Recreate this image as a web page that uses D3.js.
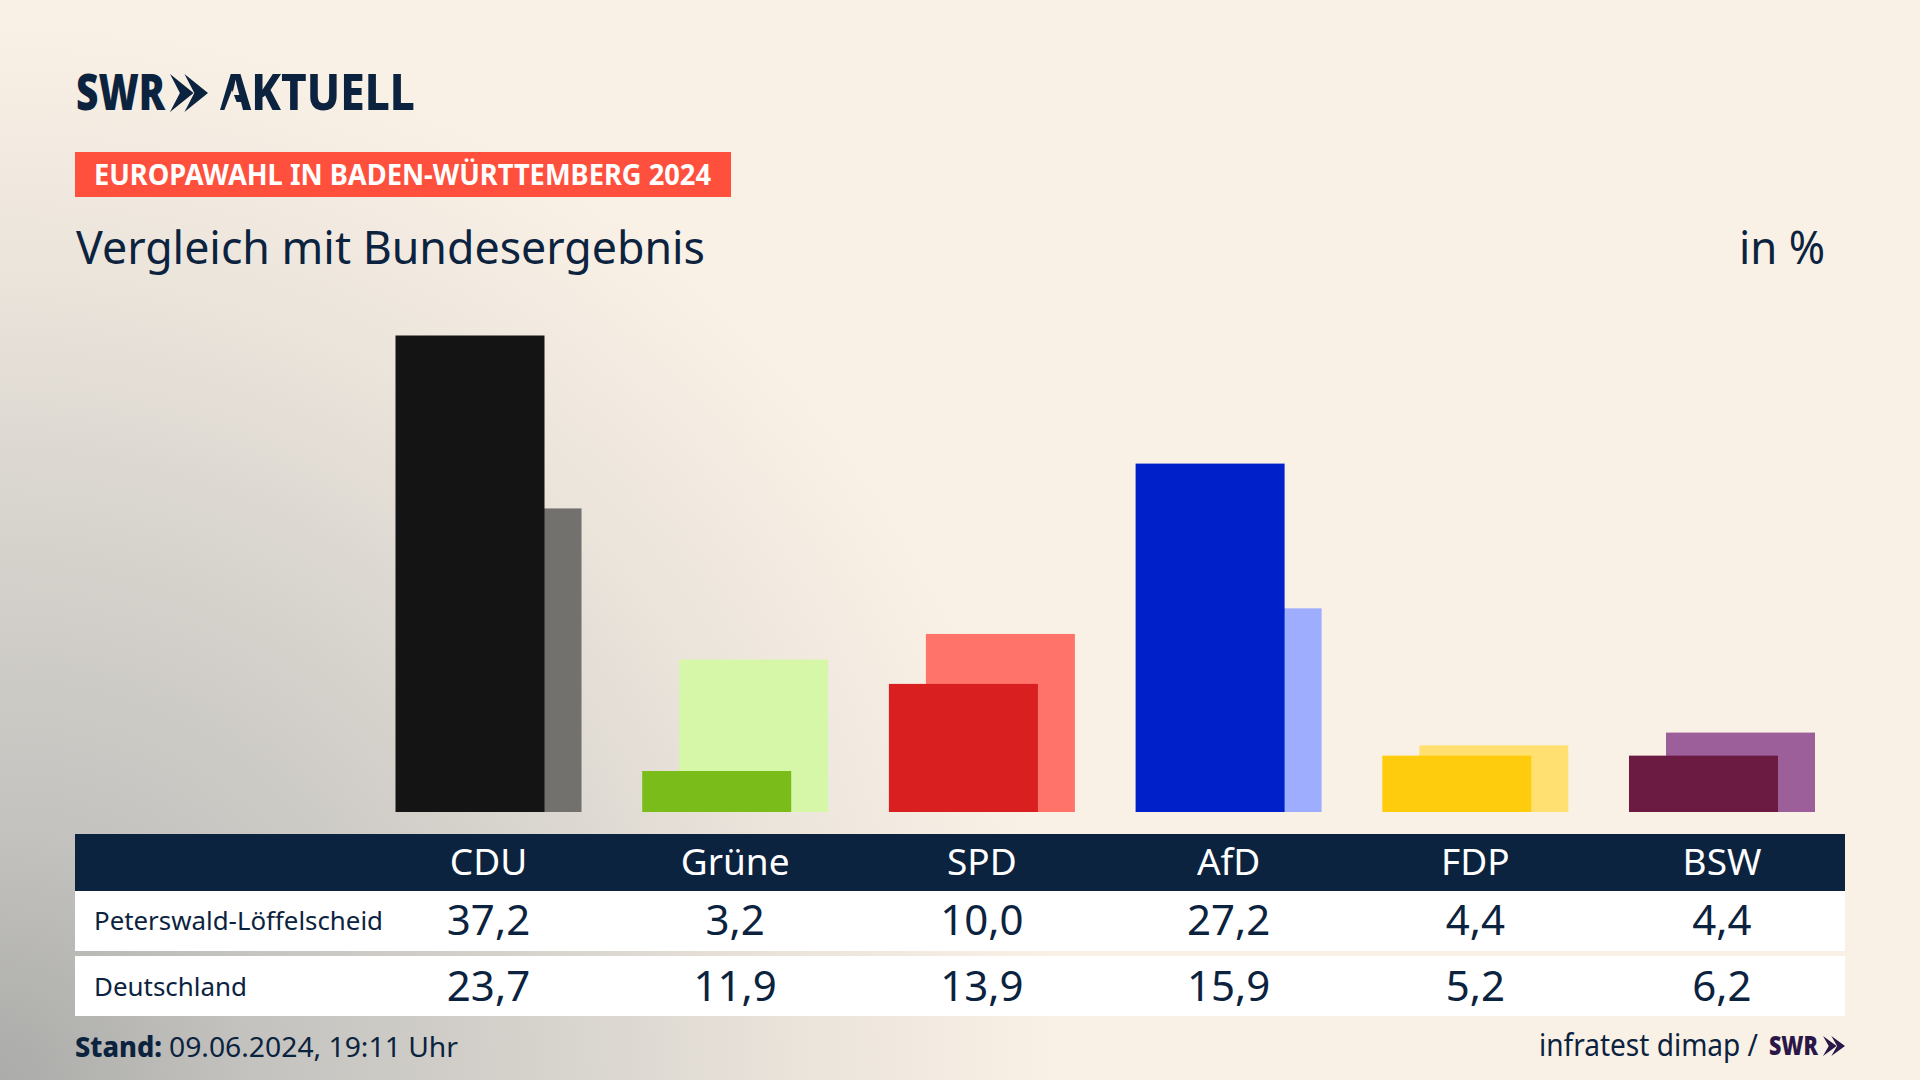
<!DOCTYPE html>
<html><head><meta charset="utf-8">
<script src="https://cdn.jsdelivr.net/npm/d3@7"></script>
<style>html,body{margin:0;padding:0;background:#faf1e6;overflow:hidden}svg{display:block}</style>
</head><body><svg id="c" width="1920" height="1080"></svg>
<script>
const categories = ["CDU","Grüne","SPD","AfD","FDP","BSW"];
const localName = "Peterswald-Löffelscheid";
const nationalName = "Deutschland";
const localValues = [37.2,3.2,10.0,27.2,4.4,4.4];
const nationalValues = [23.7,11.9,13.9,15.9,5.2,6.2];
const localColors = ["#141414","#7abd1a","#d91f1f","#0020c9","#ffcc0d","#6b1a42"];
const nationalColors = ["#72716e","#d6f6a8","#ff736b","#9fadff","#ffe070","#9c5f99"];

const NAVY="#0c2340", FONT="'Noto Sans',sans-serif";
const svg=d3.select("#c");
const defs=svg.append("defs");
const g=defs.append("radialGradient").attr("id","bg").attr("gradientUnits","userSpaceOnUse")
  .attr("cx",0).attr("cy",1080).attr("r",1300);
[[0,"#ababa9"],[.2,"#c4c3bf"],[.45,"#d9d5cf"],[.62,"#ebe4db"],[.82,"#faf1e6"],[1,"#faf1e6"]]
  .forEach(([o,c])=>g.append("stop").attr("offset",o).attr("stop-color",c));
svg.append("rect").attr("width",1920).attr("height",1080).attr("fill","url(#bg)");

function txt(s,x,y,size,width,opt={}){
  const t=svg.append("text").attr("x",x).attr("y",y).text(s)
   .attr("font-family",FONT).attr("font-size",size).attr("font-weight",opt.weight||400)
   .attr("fill",opt.fill||NAVY).attr("text-anchor",opt.anchor||"start");
  if(width) t.attr("textLength",width).attr("lengthAdjust","spacingAndGlyphs");
  return t;
}
function chevrons(x,y,w,h,fill){
  const cw=w*0.62, off=w-cw;
  [0,off].forEach(dx=>{
    const p=d3.path(), x0=x+dx;
    p.moveTo(x0,y);p.lineTo(x0+cw,y+h/2);p.lineTo(x0,y+h);
    p.lineTo(x0+cw*0.42,y+h/2);p.closePath();
    svg.append("path").attr("d",p.toString()).attr("fill",fill);
  });
}

// logo
txt("SWR",76,110,50,89,{weight:900});
chevrons(170,74,38,38,NAVY);
const mask=defs.append("mask").attr("id","noBar").attr("maskUnits","userSpaceOnUse")
 .attr("x",200).attr("y",60).attr("width",240).attr("height",60);
mask.append("rect").attr("x",200).attr("y",60).attr("width",240).attr("height",60).attr("fill","#fff");
mask.append("path").attr("d","M232 90 L240 111 L224 111 Z").attr("fill","#000");
txt("AKTUELL",220,110,50,195,{weight:800}).attr("mask","url(#noBar)");

// banner and title
svg.append("rect").attr("x",75).attr("y",152).attr("width",656).attr("height",45).attr("fill","#ff4f3d");
txt("EUROPAWAHL IN BADEN-WÜRTTEMBERG 2024",94,185,28,617,{weight:700,fill:"#fff"});
txt("Vergleich mit Bundesergebnis",76,264,46,629);
txt("in %",1739,264,46,86);

// bars
const x=d3.scaleBand().domain(categories).range([395.5,1815]).paddingInner(0.246).paddingOuter(0);
const y=d3.scaleLinear().domain([0,37.2]).range([812,335.5]);
const barW=149, off=x.bandwidth()-barW;
svg.append("g").selectAll("rect").data(categories).join("rect")
 .attr("x",d=>x(d)+off).attr("width",barW)
 .attr("y",(d,i)=>y(nationalValues[i])).attr("height",(d,i)=>y(0)-y(nationalValues[i]))
 .attr("fill",(d,i)=>nationalColors[i]);
svg.append("g").selectAll("rect").data(categories).join("rect")
 .attr("x",d=>x(d)).attr("width",barW)
 .attr("y",(d,i)=>y(localValues[i])).attr("height",(d,i)=>y(0)-y(localValues[i]))
 .attr("fill",(d,i)=>localColors[i]);

// table
const tx=75, tw=1770;
svg.append("rect").attr("x",tx).attr("y",834).attr("width",tw).attr("height",57).attr("fill",NAVY);
svg.append("rect").attr("x",tx).attr("y",891).attr("width",tw).attr("height",60).attr("fill","#fff");
svg.append("rect").attr("x",tx).attr("y",956).attr("width",tw).attr("height",60).attr("fill","#fff");
const fmt=v=>v.toFixed(1).replace(".",",");
const cx=d=>x(d)+x.bandwidth()/2;
categories.forEach((c,i)=>{
  txt(c,cx(c),875,37,null,{anchor:"middle",fill:"#fff"});
  txt(fmt(localValues[i]),cx(c),935,42,null,{anchor:"middle"});
  txt(fmt(nationalValues[i]),cx(c),1001,42,null,{anchor:"middle"});
});
txt(localName,94,930,26,289);
txt(nationalName,94,996,26,153);

// footer
txt("Stand:",75,1057,28,87,{weight:800});
txt("09.06.2024, 19:11 Uhr",169,1057,28,289);
txt("infratest dimap /",1539,1056,30,219);
txt("SWR",1769,1055,27,49,{weight:900,fill:"#2a1748"});
chevrons(1823,1036,22,20,"#2a1748");
</script></body></html>
